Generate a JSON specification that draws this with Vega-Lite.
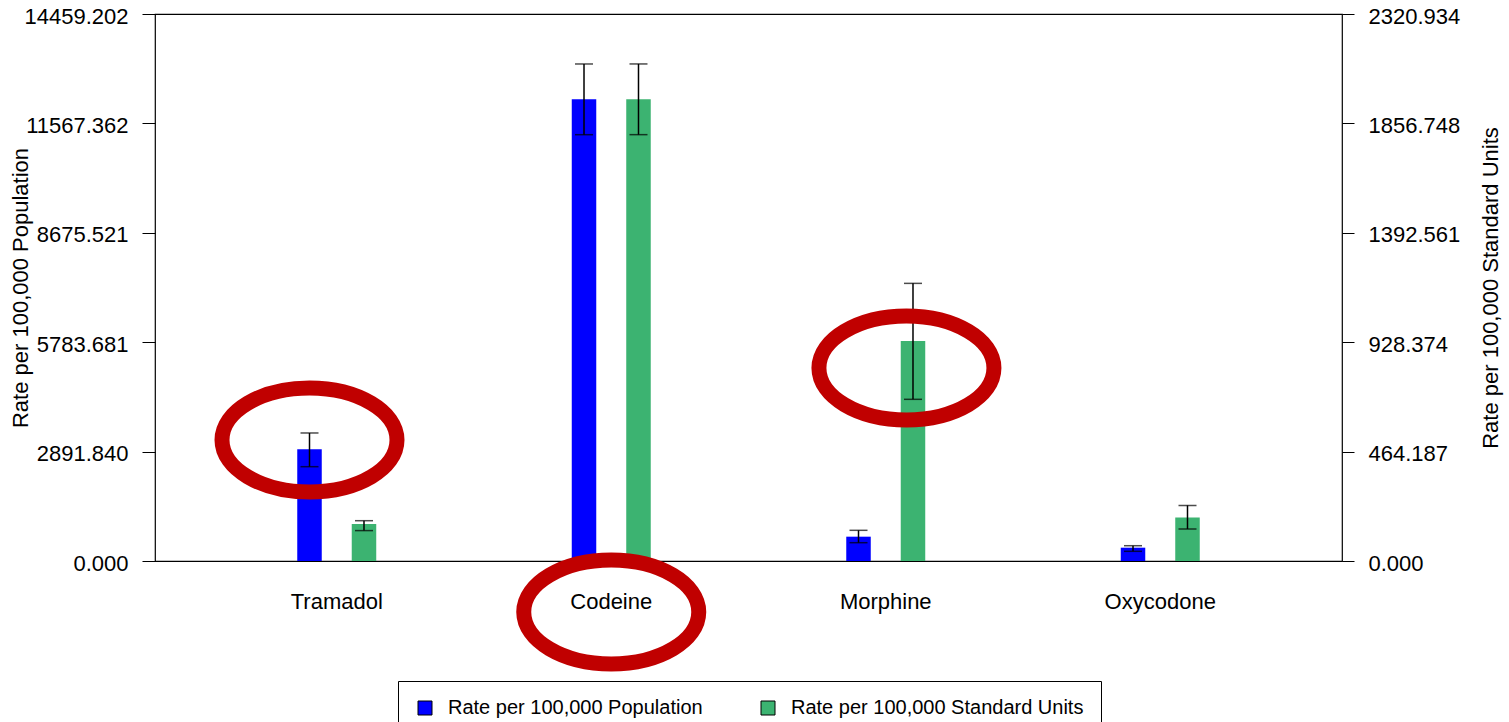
{
  "$schema": "https://vega.github.io/schema/vega-lite/v6.json",
  "width": 1187,
  "height": 547,
  "autosize": {"type": "none"},
  "padding": {"left": 155, "top": 14, "right": 167, "bottom": 161},
  "background": "white",
  "config": {
    "font": "Liberation Sans",
    "view": {"stroke": "black", "strokeWidth": 1.2},
    "axis": {"labelColor": "black", "titleColor": "black", "titleFontWeight": "normal", "tickColor": "black", "grid": false, "labelFont": "Liberation Sans", "titleFont": "Liberation Sans"},
    "legend": {"labelFont": "Liberation Sans", "labelColor": "black"}
  },
  "datasets": {
    "bars": [
      {"drug": "Tramadol", "series": "Rate per 100,000 Population", "value": 2953, "lo": 2493, "hi": 3384},
      {"drug": "Tramadol", "series": "Rate per 100,000 Standard Units", "value": 157, "lo": 129, "hi": 171},
      {"drug": "Codeine", "series": "Rate per 100,000 Population", "value": 12205, "lo": 11269, "hi": 13138},
      {"drug": "Codeine", "series": "Rate per 100,000 Standard Units", "value": 1959, "lo": 1809, "hi": 2109},
      {"drug": "Morphine", "series": "Rate per 100,000 Population", "value": 643, "lo": 484, "hi": 811},
      {"drug": "Morphine", "series": "Rate per 100,000 Standard Units", "value": 933, "lo": 686, "hi": 1178},
      {"drug": "Oxycodone", "series": "Rate per 100,000 Population", "value": 352, "lo": 256, "hi": 404},
      {"drug": "Oxycodone", "series": "Rate per 100,000 Standard Units", "value": 185, "lo": 136, "hi": 236}
    ],
    "ellipseTramadol": [
      {"drug": "Tramadol", "series": "Rate per 100,000 Population", "value": 3198}
    ],
    "ellipseMorphine": [
      {"drug": "Morphine", "series": "Rate per 100,000 Standard Units", "value": 5102}
    ],
    "ellipseCodeine": [
      {"drug": "Codeine", "value": -1348}
    ]
  },
  "encoding": {
    "x": {
      "field": "drug",
      "type": "nominal",
      "sort": ["Tramadol", "Codeine", "Morphine", "Oxycodone"],
      "scale": {"paddingInner": 0.603, "paddingOuter": 0.4636},
      "axis": {"title": null, "ticks": false, "tickSize": 0, "domain": false, "labelFontSize": 22, "labelPadding": 30, "labelAngle": 0}
    }
  },
  "layer": [
    {
      "layer": [
        {
          "data": {"name": "bars"},
          "transform": [{"filter": "datum.series == 'Rate per 100,000 Population'"}],
          "mark": {"type": "bar", "size": 24.5},
          "encoding": {
            "xOffset": {"field": "series", "type": "nominal", "scale": {"domain": ["Rate per 100,000 Population", "Rate per 100,000 Standard Units"], "paddingInner": 0, "paddingOuter": 0}},
            "y": {
              "field": "value", "type": "quantitative",
              "title": "Rate per 100,000 Population",
              "scale": {"domain": [0, 14459.202], "nice": false, "zero": true},
              "axis": {
                "title": "Rate per 100,000 Population",
                "orient": "left",
                "values": [0, 2891.84, 5783.681, 8675.521, 11567.362, 14459.202],
                "format": ".3f",
                "domain": false,
                "tickSize": 13,
                "labelPadding": 14,
                "labelOffset": 2,
                "labelFontSize": 22,
                "labelFlush": false,
                "labelOverlap": false,
                "titleFontSize": 22,
                "titleAngle": 270,
                "titleBaseline": "middle",
                "titleX": -135,
                "titleY": 273.5
              }
            },
            "color": {
              "field": "series", "type": "nominal",
              "scale": {"domain": ["Rate per 100,000 Population", "Rate per 100,000 Standard Units"], "range": ["#0000ff", "#3cb371"]},
              "legend": {
                "title": null,
                "orient": "none",
                "legendX": 243,
                "legendY": 667,
                "direction": "horizontal",
                "strokeColor": "black",
                "fillColor": "white",
                "padding": 17,
                "symbolType": "square",
                "symbolSize": 196,
                "symbolStrokeColor": "black",
                "symbolStrokeWidth": 1,
                "symbolOpacity": 1,
                "labelFontSize": 20,
                "labelOffset": 13,
                "labelLimit": 500,
                "columnPadding": 55
              }
            }
          }
        },
        {
          "data": {"name": "bars"},
          "transform": [{"filter": "datum.series == 'Rate per 100,000 Population'"}],
          "mark": {"type": "rule", "color": "black", "strokeWidth": 1.5},
          "encoding": {
            "xOffset": {"field": "series", "type": "nominal", "scale": {"domain": ["Rate per 100,000 Population", "Rate per 100,000 Standard Units"], "paddingInner": 0, "paddingOuter": 0}},
            "y": {"field": "lo", "type": "quantitative", "title": "Rate per 100,000 Population", "scale": {"domain": [0, 14459.202], "nice": false}},
            "y2": {"field": "hi"}
          }
        },
        {
          "data": {"name": "bars"},
          "transform": [{"filter": "datum.series == 'Rate per 100,000 Population'"}],
          "mark": {"type": "tick", "color": "black", "thickness": 1.5, "size": 18},
          "encoding": {
            "xOffset": {"field": "series", "type": "nominal", "scale": {"domain": ["Rate per 100,000 Population", "Rate per 100,000 Standard Units"], "paddingInner": 0, "paddingOuter": 0}},
            "y": {"field": "lo", "type": "quantitative", "title": "Rate per 100,000 Population", "scale": {"domain": [0, 14459.202], "nice": false}}
          }
        },
        {
          "data": {"name": "bars"},
          "transform": [{"filter": "datum.series == 'Rate per 100,000 Population'"}],
          "mark": {"type": "tick", "color": "black", "thickness": 1.5, "size": 18},
          "encoding": {
            "xOffset": {"field": "series", "type": "nominal", "scale": {"domain": ["Rate per 100,000 Population", "Rate per 100,000 Standard Units"], "paddingInner": 0, "paddingOuter": 0}},
            "y": {"field": "hi", "type": "quantitative", "title": "Rate per 100,000 Population", "scale": {"domain": [0, 14459.202], "nice": false}}
          }
        },
        {
          "data": {"name": "ellipseTramadol"},
          "mark": {"type": "point", "shape": "M-1,0C-1,-0.328,-0.552,-0.594,0,-0.594C0.552,-0.594,1,-0.328,1,0C1,0.328,0.552,0.594,0,0.594C-0.552,0.594,-1,0.328,-1,0Z", "filled": false, "stroke": "#c00000", "strokeWidth": 15, "size": 30625, "opacity": 1, "clip": false},
          "encoding": {
            "xOffset": {"field": "series", "type": "nominal", "scale": {"domain": ["Rate per 100,000 Population", "Rate per 100,000 Standard Units"], "paddingInner": 0, "paddingOuter": 0}},
            "y": {"field": "value", "type": "quantitative", "title": "Rate per 100,000 Population", "scale": {"domain": [0, 14459.202], "nice": false}}
          }
        }
      ]
    },
    {
      "data": {"name": "bars"},
      "transform": [{"filter": "datum.series == 'Rate per 100,000 Standard Units'"}],
      "layer": [
        {
          "mark": {"type": "bar", "size": 24.5},
          "encoding": {
            "xOffset": {"field": "series", "type": "nominal", "scale": {"domain": ["Rate per 100,000 Population", "Rate per 100,000 Standard Units"], "paddingInner": 0, "paddingOuter": 0}},
            "y": {
              "field": "value", "type": "quantitative",
              "title": "Rate per 100,000 Standard Units",
              "scale": {"domain": [0, 2320.934], "nice": false, "zero": true},
              "axis": {
                "title": "Rate per 100,000 Standard Units",
                "orient": "right",
                "values": [0, 464.187, 928.374, 1392.561, 1856.748, 2320.934],
                "format": ".3f",
                "domain": false,
                "tickSize": 12,
                "labelPadding": 14,
                "labelOffset": 2,
                "labelFontSize": 22,
                "labelFlush": false,
                "labelOverlap": false,
                "titleFontSize": 22,
                "titleAngle": 270,
                "titleBaseline": "middle",
                "titleX": 148,
                "titleY": 273.5
              }
            },
            "color": {
              "field": "series", "type": "nominal",
              "scale": {"domain": ["Rate per 100,000 Population", "Rate per 100,000 Standard Units"], "range": ["#0000ff", "#3cb371"]}
            }
          }
        },
        {
          "mark": {"type": "rule", "color": "black", "strokeWidth": 1.5},
          "encoding": {
            "xOffset": {"field": "series", "type": "nominal", "scale": {"domain": ["Rate per 100,000 Population", "Rate per 100,000 Standard Units"], "paddingInner": 0, "paddingOuter": 0}},
            "y": {"field": "lo", "type": "quantitative", "title": "Rate per 100,000 Standard Units", "scale": {"domain": [0, 2320.934], "nice": false}},
            "y2": {"field": "hi"}
          }
        },
        {
          "mark": {"type": "tick", "color": "black", "thickness": 1.5, "size": 18},
          "encoding": {
            "xOffset": {"field": "series", "type": "nominal", "scale": {"domain": ["Rate per 100,000 Population", "Rate per 100,000 Standard Units"], "paddingInner": 0, "paddingOuter": 0}},
            "y": {"field": "lo", "type": "quantitative", "title": "Rate per 100,000 Standard Units", "scale": {"domain": [0, 2320.934], "nice": false}}
          }
        },
        {
          "mark": {"type": "tick", "color": "black", "thickness": 1.5, "size": 18},
          "encoding": {
            "xOffset": {"field": "series", "type": "nominal", "scale": {"domain": ["Rate per 100,000 Population", "Rate per 100,000 Standard Units"], "paddingInner": 0, "paddingOuter": 0}},
            "y": {"field": "hi", "type": "quantitative", "title": "Rate per 100,000 Standard Units", "scale": {"domain": [0, 2320.934], "nice": false}}
          }
        }
      ]
    },
    {
      "layer": [
        {
          "data": {"name": "ellipseMorphine"},
          "mark": {"type": "point", "shape": "M-1,0C-1,-0.328,-0.552,-0.594,0,-0.594C0.552,-0.594,1,-0.328,1,0C1,0.328,0.552,0.594,0,0.594C-0.552,0.594,-1,0.328,-1,0Z", "filled": false, "stroke": "#c00000", "strokeWidth": 15, "size": 30625, "opacity": 1, "clip": false},
          "encoding": {
            "xOffset": {"field": "series", "type": "nominal", "scale": {"domain": ["Rate per 100,000 Population", "Rate per 100,000 Standard Units"], "paddingInner": 0, "paddingOuter": 0.817}},
            "y": {"field": "value", "type": "quantitative", "scale": {"domain": [0, 14459.202], "nice": false, "zero": false}, "axis": null}
          }
        },
        {
          "data": {"name": "ellipseCodeine"},
          "mark": {"type": "point", "shape": "M-1,0C-1,-0.328,-0.552,-0.594,0,-0.594C0.552,-0.594,1,-0.328,1,0C1,0.328,0.552,0.594,0,0.594C-0.552,0.594,-1,0.328,-1,0Z", "filled": false, "stroke": "#c00000", "strokeWidth": 15, "size": 30625, "opacity": 1, "clip": false},
          "encoding": {
            "y": {"field": "value", "type": "quantitative", "scale": {"domain": [0, 14459.202], "nice": false, "zero": false}, "axis": null}
          }
        }
      ],
      "resolve": {"scale": {"xOffset": "independent"}}
    }
  ],
  "resolve": {"scale": {"y": "independent", "xOffset": "independent"}}
}
